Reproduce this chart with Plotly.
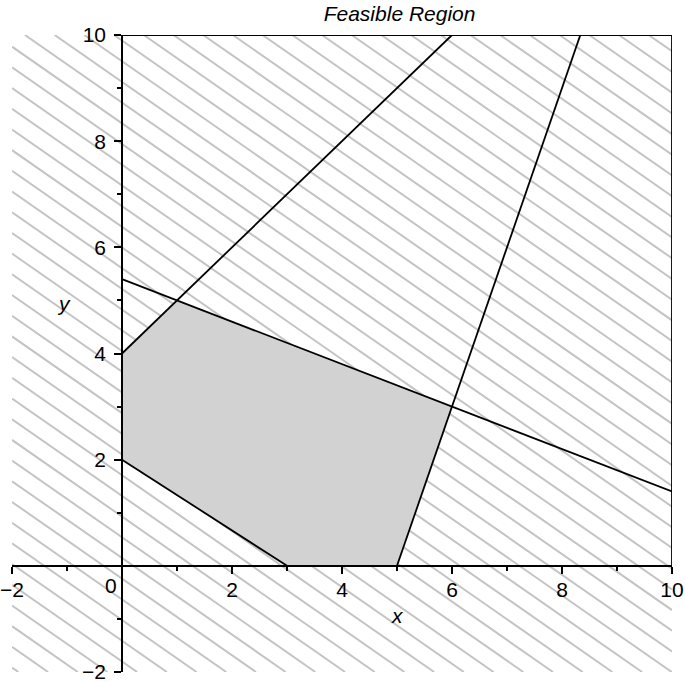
import numpy as np
import plotly.graph_objects as go

# ---- data ----
title_text = "Feasible Region"
x_range = [-2, 10]
y_range = [-2, 10]
tick_vals = [-2, 2, 4, 6, 8, 10]
tick_text = ["\u22122", "2", "4", "6", "8", "10"]

# constraint boundary lines  a*x + b*y = c
line_a = [-1.0, 3.0, 2.0, 2.0, 0.0, 1.0]
line_b = [1.0, -1.0, 5.0, 3.0, 1.0, 0.0]
line_c = [4.0, 15.0, 27.0, 6.0, 10.0, 10.0]

# feasible polygon vertices
feasible_x = [0, 0, 1, 6, 5, 3]
feasible_y = [2, 4, 5, 3, 0, 0]

# hatch pattern (data units)
hatch_dx = 0.54
hatch_slope = -0.722
hatch_phase = 0.395


def clip_line(a, b, c, lo=0.0, hi=10.0):
    pts = []
    if abs(b) > 1e-12:
        for xv in (lo, hi):
            yv = (c - a * xv) / b
            if lo - 1e-9 <= yv <= hi + 1e-9:
                pts.append((xv, yv))
    if abs(a) > 1e-12:
        for yv in (lo, hi):
            xv = (c - b * yv) / a
            if lo - 1e-9 <= xv <= hi + 1e-9:
                pts.append((xv, yv))
    uniq = []
    for p in pts:
        if all(abs(p[0] - q[0]) > 1e-9 or abs(p[1] - q[1]) > 1e-9 for q in uniq):
            uniq.append(p)
    uniq.sort()
    return uniq[0], uniq[-1]


# hatch lines through the whole frame
hx, hy = [], []
x0, x1 = x_range
y0, y1 = y_range
m = hatch_slope
span = (y1 - y0) / abs(m)
k_lo = int(np.floor((x0 - span - hatch_phase) / hatch_dx)) - 1
k_hi = int(np.ceil((x1 - hatch_phase) / hatch_dx)) + 1
for k in range(k_lo, k_hi + 1):
    xs = hatch_phase + k * hatch_dx  # x where line crosses y=y1
    xa = max(x0, xs)
    xb = min(x1, xs + span)
    if xb <= xa:
        continue
    hx += [xa, xb, None]
    hy += [y1 + m * (xa - xs), y1 + m * (xb - xs), None]

fig = go.Figure()
fig.add_trace(go.Scatter(x=hx, y=hy, mode="lines",
                         line=dict(color="#c4c4c4", width=2),
                         hoverinfo="skip", showlegend=False))
fig.add_trace(go.Scatter(x=feasible_x + [feasible_x[0]],
                         y=feasible_y + [feasible_y[0]],
                         mode="lines", fill="toself", fillcolor="#d2d2d2",
                         line=dict(width=0, color="#d2d2d2"),
                         hoverinfo="skip", showlegend=False))
for a, b, c in zip(line_a, line_b, line_c):
    p, q = clip_line(a, b, c)
    fig.add_trace(go.Scatter(x=[p[0], q[0]], y=[p[1], q[1]], mode="lines",
                             line=dict(color="black", width=1.8),
                             hoverinfo="skip", showlegend=False))

FAMILY = "Liberation Sans, Arial, sans-serif"
font = dict(family=FAMILY, size=21, color="black")

axis_common = dict(
    showgrid=False, zeroline=False, showline=True, linecolor="black",
    linewidth=1.5, ticks="outside", ticklen=7, tickwidth=1.5, tickcolor="black",
    tickvals=tick_vals, ticktext=tick_text, tickfont=font,
    minor=dict(ticks="outside", ticklen=4, tickwidth=1.5, tickcolor="black",
               dtick=1, tick0=0, showgrid=False),
    anchor="free", position=(0 - x_range[0]) / (x_range[1] - x_range[0]),
    layer="above traces", automargin=False, ticklabeloverflow="allow",
)

fig.update_layout(
    width=685, height=682,
    margin=dict(l=12, r=13, t=35, b=10, autoexpand=False),
    paper_bgcolor="white", plot_bgcolor="white",
    showlegend=False,
    xaxis=dict(range=x_range, ticklabelstandoff=-2, **axis_common),
    yaxis=dict(range=y_range, ticklabelstandoff=4, **axis_common),
    title=dict(text="<i>" + title_text + "</i>", x=(397 - 12) / 660, xanchor="center",
               y=1 - 14 / 682, yanchor="middle", automargin=False,
               font=dict(family=FAMILY, size=21, color="black")),
    annotations=[
        dict(x=0, y=0, xref="x", yref="y", text="0", showarrow=False,
             xshift=-11, yshift=-20, font=font),
        dict(x=5, y=-1, xref="x", yref="y", text="<i>x</i>", showarrow=False,
             yshift=3, font=font),
        dict(x=-1.05, y=5, xref="x", yref="y", text="<i>y</i>", showarrow=False,
             yshift=-3, font=font),
    ],
)

fig.write_html("out.html", config={"displayModeBar": False},
               post_script="document.body.style.margin='0';")
